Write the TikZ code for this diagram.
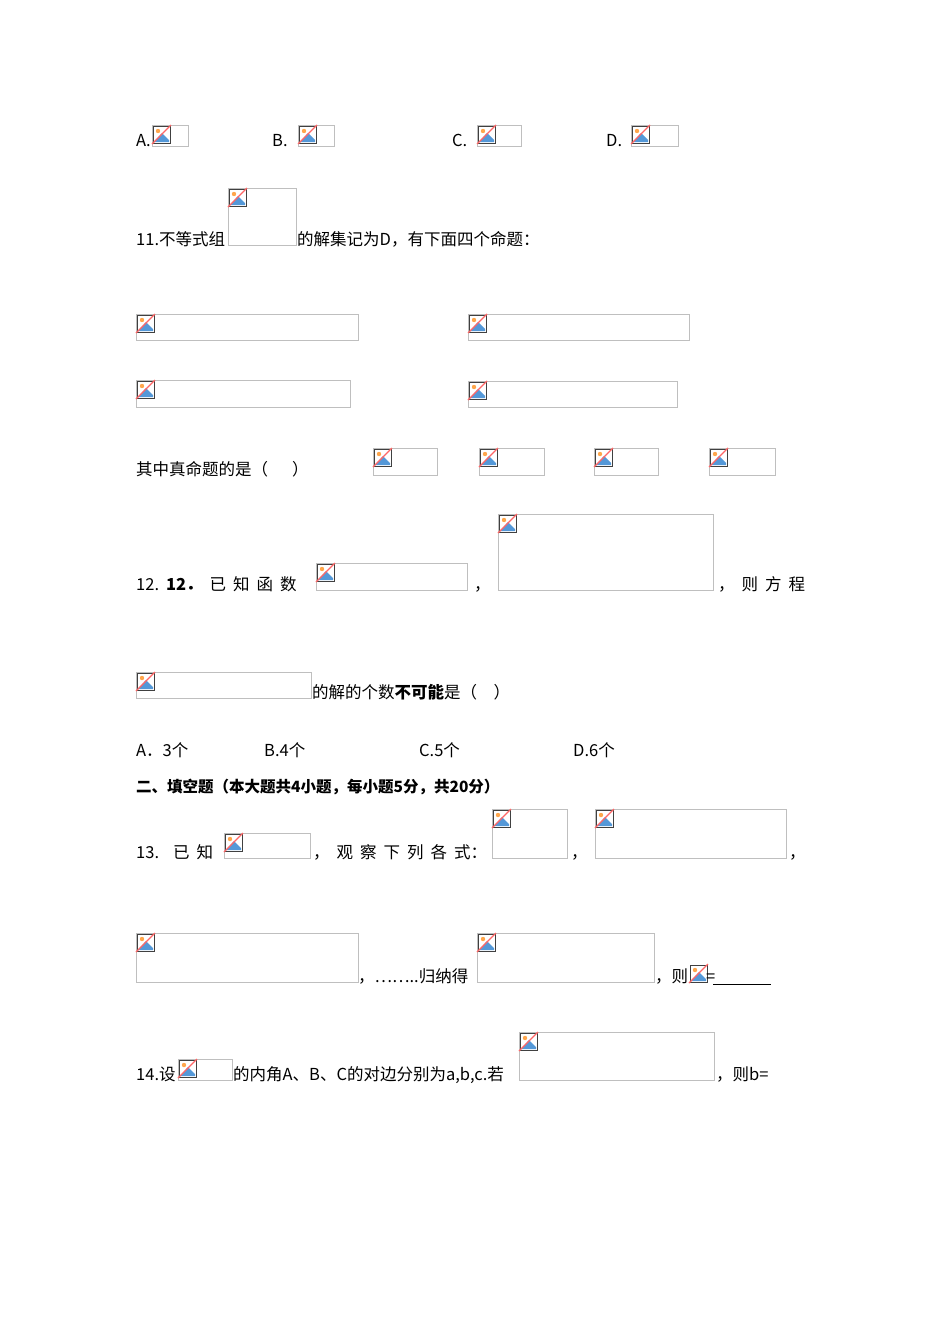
\documentclass[tikz,border=0pt]{standalone}
\usepackage{fontspec}
\setmainfont{Liberation Serif}
\newfontfamily\cjk{Noto Sans CJK SC}
\begin{document}
\begin{tikzpicture}[x=1pt,y=-1pt,
  txt/.style={anchor=base west,inner sep=0pt,font=\cjk\fontsize{16.5}{19}\selectfont},
  frame/.style={draw=black!25,line width=0.8pt}]
\useasboundingbox[fill=white] (0,0) rectangle (950,1344);
\newcommand\icon[2]{%
  \begin{scope}[shift={(#1,#2)}]
   \fill[white] (1,1) rectangle (18,18);
   \fill[cyan!60!blue!70] (2,17) -- (10,8) -- (17,15) -- (17,17) -- cycle;
   \fill[orange!70] (6,6) circle (2.2);
   \draw[black!75,line width=1pt] (1,1) rectangle (18,18);
   \draw[red!60,line width=1.2pt] (0,19) -- (19,0);
  \end{scope}}
\newcommand\ph[4]{\draw[frame] (#1,#2) rectangle (#3,#4); \icon{#1}{#2}}
\newcommand\gp{\hspace{7pt}}
% row A-D
\node[txt] (a) at (136,146) {A.}; \ph{152}{125}{188}{146}
\node[txt] (b) at (272,146) {B.}; \ph{298}{125}{334}{146}
\node[txt] (c) at (452,146) {C.}; \ph{477}{125}{521}{146}
\node[txt] (d) at (606,146) {D.}; \ph{631}{125}{678}{146}
% 11
\node[txt] (t11) at (136,245) {11.不等式组}; \ph{228}{188}{296}{245}
\node[txt] (t11b) at (297,245) {的解集记为D，有下面四个命题：};
\ph{136}{314}{358}{340} \ph{468}{314}{689}{340}
\ph{136}{380}{350}{407} \ph{468}{381}{677}{407}
\node[txt] (tz) at (136,475) {其中真命题的是（\quad\ \ ）};
\ph{373}{448}{437}{475} \ph{479}{448}{544}{475} \ph{594}{448}{658}{475} \ph{709}{448}{775}{475}
% 12
\node[txt] (t12) at (136,590) {12.\gp\textbf{12．}\gp 已\gp 知\gp 函\gp 数};
\ph{316}{563}{467}{590}
\node[txt] (c1) at (474,590) {，};
\ph{498}{514}{713}{590}
\node[txt] (c2) at (718,590) {，\gp 则\gp 方\gp 程};
\ph{136}{672}{311}{698}
\node[txt] (t12b) at (312,698) {的解的个数\textbf{不可能}是（\quad ）};
\node[txt] (o1) at (136,756) {A．3个};
\node[txt] (o2) at (264,756) {B.4个};
\node[txt] (o3) at (419,756) {C.5个};
\node[txt] (o4) at (573,756) {D.6个};
\node[txt,font=\cjk\bfseries\fontsize{15.5}{18}\selectfont] (h2) at (136,792) {二、填空题（本大题共4小题，每小题5分，共20分）};
% 13
\node[txt] (t13) at (136,858) {13.\gp\gp 已\gp 知};
\ph{224}{833}{310}{858}
\node[txt] (t13b) at (313,858) {，\gp 观\gp 察\gp 下\gp 列\gp 各\gp 式：};
\ph{492}{809}{567}{858}
\node[txt] (c3) at (571,858) {，};
\ph{595}{809}{786}{858}
\node[txt] (c4) at (789,858) {，};
\ph{136}{933}{358}{982}
\node[txt] (t13c) at (358,982) {，……..归纳得};
\ph{477}{933}{654}{982}
\node[txt] (t13d) at (655,982) {，则};
\icon{689}{964}
\node[txt] (eq) at (706,982) {=};
\coordinate (u1) at (713,984); \coordinate (u2) at (771,984);
\draw[line width=0.7pt] (u1) -- (u2);
% 14
\node[txt] (t14) at (136,1080) {14.设};
\ph{178}{1059}{232}{1080}
\node[txt] (t14b) at (233,1080) {的内角A、B、C的对边分别为a,b,c.若};
\ph{519}{1032}{714}{1080}
\node[txt] (t14c) at (716,1080) {，则b=};
\end{tikzpicture}
\end{document}
